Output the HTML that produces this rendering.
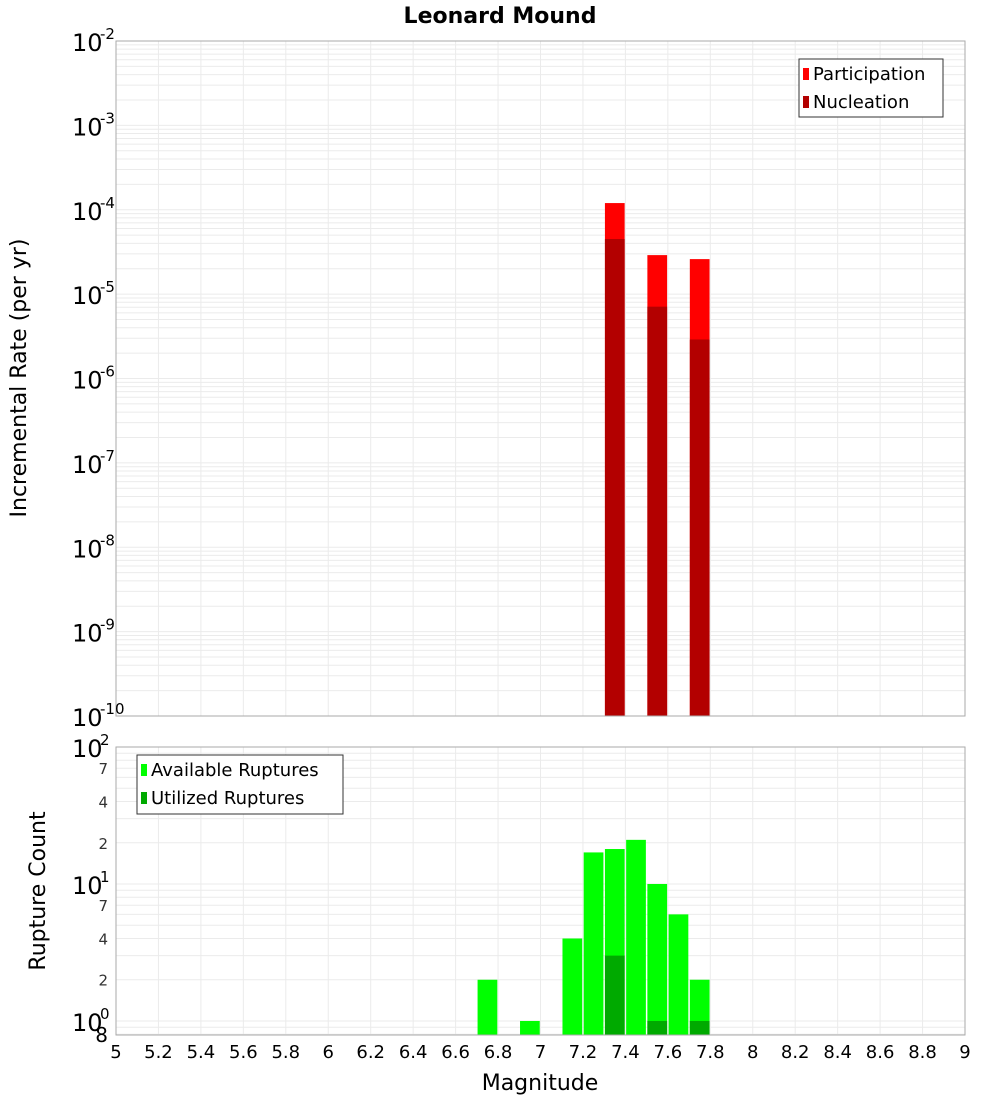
<!DOCTYPE html>
<html><head><meta charset="utf-8"><style>
body{margin:0;background:#fff}
svg text{font-family:"DejaVu Sans","Liberation Sans",sans-serif}
</style></head><body>
<svg id="c" width="1000" height="1100" xmlns="http://www.w3.org/2000/svg"></svg>
<script>
const xTicks=[5,5.2,5.4,5.6,5.8,6,6.2,6.4,6.6,6.8,7,7.2,7.4,7.6,7.8,8,8.2,8.4,8.6,8.8,9];
const topMags=[7.35,7.55,7.75];
const participation=[1.2e-4,2.9e-5,2.6e-5];
const nucleation=[4.5e-5,7.1e-6,2.9e-6];
const botMags=[6.75,6.95,7.15,7.25,7.35,7.45,7.55,7.65,7.75];
const available=[2,1,4,17,18,21,10,6,2];
const utilizedMags=[7.35,7.55,7.75];
const utilized=[3,1,1];
const topExp=[-2,-3,-4,-5,-6,-7,-8,-9,-10];
const botMinor=[2,4,7,20,40,70];

const S=document.getElementById('c');const NS='http://www.w3.org/2000/svg';
function el(t,a,p){const e=document.createElementNS(NS,t);for(const k in a)e.setAttribute(k,a[k]);(p||S).appendChild(e);return e;}
const X0=116,X1=965;
const xs=m=>X0+(m-5)/4*(X1-X0);
const T0=41,T1=716;
const yt=v=>T0+(-2-Math.log10(v))/8*(T1-T0);
const B0=747,B1=1035,bMin=0.79;
const yb=v=>B0+(2-Math.log10(v))/(2-Math.log10(bMin))*(B1-B0);

// title
let t=el('text',{x:500,y:23,'text-anchor':'middle','font-size':22,'font-weight':'bold'});t.textContent='Leonard Mound';


// grids
const g=el('g',{stroke:'#ebebeb','stroke-width':1});

xTicks.forEach(m=>{el('line',{x1:xs(m),x2:xs(m),y1:T0,y2:T1},g);el('line',{x1:xs(m),x2:xs(m),y1:B0,y2:B1},g);});
for(let e=-10;e<-2;e++)for(let k=1;k<10;k++){const y=yt(k*Math.pow(10,e));el('line',{x1:X0,x2:X1,y1:y,y2:y},g);}
for(let e=-1;e<2;e++)for(let k=1;k<10;k++){const v=k*Math.pow(10,e);if(v<bMin)continue;const y=yb(v);el('line',{x1:X0,x2:X1,y1:y,y2:y},g);}

// top bars
const bw=xs(5.1)-xs(5)-1.5;
participation.forEach((v,i)=>{const r=el('rect',{x:xs(topMags[i])-bw/2,y:yt(v),width:bw,height:T1-yt(v),fill:'#ff0000'});
});
nucleation.forEach((v,i)=>{const r=el('rect',{x:xs(topMags[i])-bw/2,y:yt(v),width:bw,height:T1-yt(v),fill:'#b30000'});
});
available.forEach((v,i)=>{const r=el('rect',{x:xs(botMags[i])-bw/2,y:yb(v),width:bw,height:B1-yb(v),fill:'#00ff00'});
});
utilized.forEach((v,i)=>{const r=el('rect',{x:xs(utilizedMags[i])-bw/2,y:yb(v),width:bw,height:B1-yb(v),fill:'#00aa00'});
});

// frames
let f=el('rect',{x:X0,y:T0,width:X1-X0,height:T1-T0,fill:'none',stroke:'#aaa'});

f=el('rect',{x:X0,y:B0,width:X1-X0,height:B1-B0,fill:'none',stroke:'#aaa'});


// top y labels
topExp.forEach(e=>{const y=yt(Math.pow(10,e));
const tx=el('text',{x:72,y:y+10,'font-size':24});tx.textContent='10';

const s=el('text',{x:100,y:y-2,'font-size':15});s.textContent=String(e);
});
// bottom y labels
[[1,'0'],[10,'1'],[100,'2']].forEach(([v,e])=>{const y=yb(v);
const tx=el('text',{x:72,y:y+10,'font-size':24});tx.textContent='10';

const s=el('text',{x:100,y:y-2,'font-size':15});s.textContent=e;
});
botMinor.forEach(v=>{const tx=el('text',{x:108,y:yb(v)+6,'font-size':15,'text-anchor':'end',fill:'#333'});tx.textContent=String(v).charAt(0);
});
t=el('text',{x:108,y:B1+7,'font-size':20,'text-anchor':'end'});t.textContent='8';


// x labels
xTicks.forEach(m=>{const tx=el('text',{x:xs(m),y:1058,'font-size':18,'text-anchor':'middle'});tx.textContent=String(Math.round(m*10)/10);
});
t=el('text',{x:540,y:1090,'font-size':22,'text-anchor':'middle'});t.textContent='Magnitude';

t=el('text',{x:0,y:0,'font-size':22,'text-anchor':'middle',transform:'translate(26,378) rotate(-90)'});t.textContent='Incremental Rate (per yr)';

t=el('text',{x:0,y:0,'font-size':22,'text-anchor':'middle',transform:'translate(45,891) rotate(-90)'});t.textContent='Rupture Count';


// legends
function legend(x,y,w,h,items,name){const lg=el('g',{});
el('rect',{x:x,y:y,width:w,height:h,fill:'#fff',stroke:'#333'},lg);
items.forEach(([c,l],i)=>{el('rect',{x:x+4,y:y+9+i*28,width:6,height:12,fill:c},lg);
const tx=el('text',{x:x+14,y:y+21+i*28,'font-size':18},lg);tx.textContent=l;
});}
legend(799,59,144,58,[['#ff0000','Participation'],['#b30000','Nucleation']],'top-legend');
legend(137,755,206,59,[['#00ff00','Available Ruptures'],['#00aa00','Utilized Ruptures']],'bottom-legend');
</script>
</body></html>
